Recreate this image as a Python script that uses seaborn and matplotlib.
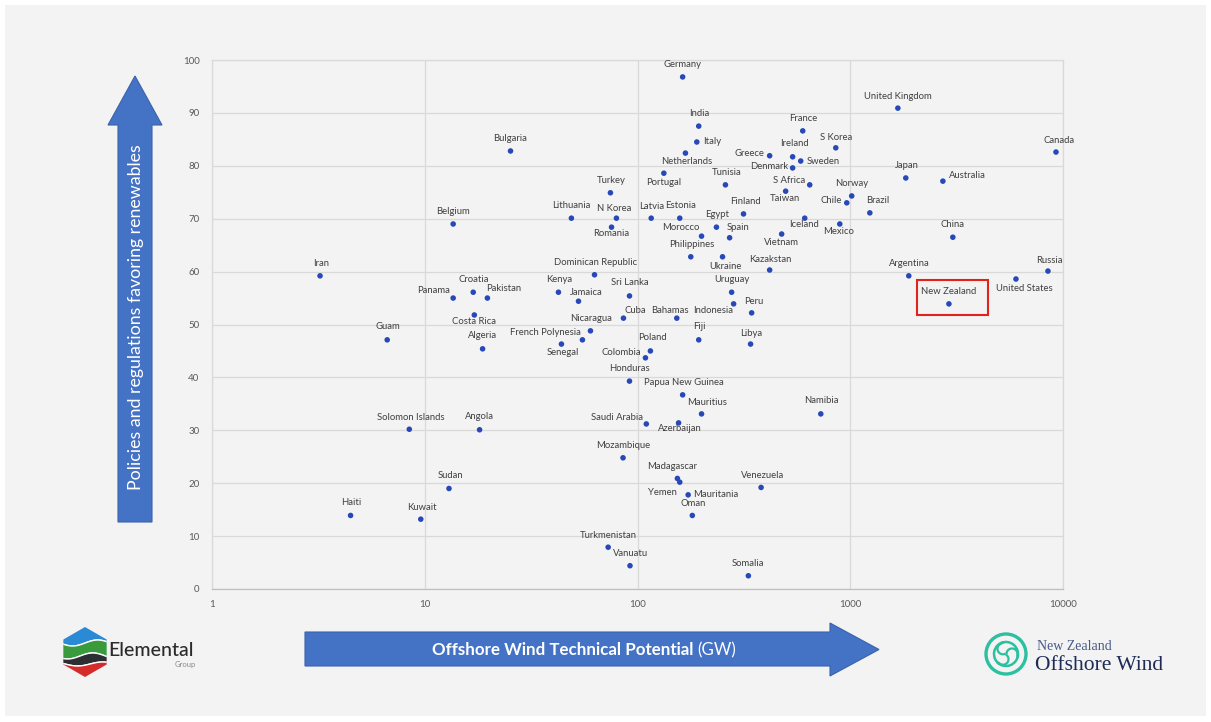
import numpy as np
import pandas as pd
import matplotlib
matplotlib.use("Agg")
import matplotlib.pyplot as plt
import seaborn as sns
from matplotlib.patches import Polygon, Rectangle, Circle, Arc, RegularPolygon
from matplotlib.ticker import FixedLocator, FixedFormatter, NullLocator
from matplotlib.transforms import Affine2D, IdentityTransform

# ---------------- data ----------------
countries = [
    "Germany", "United Kingdom", "India", "Italy", "Netherlands", "Bulgaria", "France",
    "S Korea", "Canada", "Greece", "Ireland", "Sweden", "Denmark", "Portugal", "Tunisia",
    "S Africa", "Taiwan", "Japan", "Australia", "Norway", "Chile", "Brazil", "Turkey",
    "Lithuania", "N Korea", "Romania", "Latvia", "Estonia", "Belgium", "Finland", "Egypt",
    "Morocco", "Spain", "Iceland", "Mexico", "Vietnam", "China", "Philippines", "Ukraine",
    "Kazakstan", "Argentina", "Russia", "United States", "New Zealand", "Iran",
    "Dominican Republic", "Kenya", "Jamaica", "Sri Lanka", "Croatia", "Panama", "Pakistan",
    "Costa Rica", "Algeria", "Guam", "French Polynesia", "Senegal", "Nicaragua", "Cuba",
    "Bahamas", "Indonesia", "Uruguay", "Peru", "Fiji", "Libya", "Poland", "Colombia",
    "Honduras", "Papua New Guinea", "Mauritius", "Namibia", "Saudi Arabia", "Azerbaijan",
    "Solomon Islands", "Angola", "Mozambique", "Madagascar", "Yemen", "Mauritania", "Oman",
    "Venezuela", "Sudan", "Haiti", "Kuwait", "Turkmenistan", "Vanuatu", "Somalia",
]
potential_gw = [
    163, 1674, 194, 190, 168, 25.3, 598,
    855, 9270, 418, 536, 585, 536, 133, 259,
    645, 497, 1824, 2725, 1016, 963, 1236, 74.6,
    48.9, 79.6, 75.5, 116, 158, 13.6, 315, 235,
    200, 271, 611, 893, 476, 3035, 178, 251,
    418, 1884, 8497, 6010, 2909, 3.22,
    62.8, 42.5, 52.8, 91.7, 16.9, 13.6, 19.7,
    17.1, 18.7, 6.66, 55.1, 43.9, 60.1, 85.9,
    153, 283, 277, 344, 194, 340, 115, 109,
    91.7, 163, 200, 727, 110, 156,
    8.46, 18.1, 85.5, 154, 158, 173, 181,
    381, 13.0, 4.48, 9.58, 72.8, 92.2, 332,
]
policy_score = [
    96.8, 90.9, 87.5, 84.5, 82.4, 82.8, 86.6,
    83.4, 82.6, 81.9, 81.7, 80.9, 79.6, 78.6, 76.4,
    76.4, 75.2, 77.7, 77.1, 74.3, 73.0, 71.1, 74.9,
    70.1, 70.1, 68.4, 70.1, 70.1, 69.0, 70.9, 68.4,
    66.7, 66.4, 70.1, 69.0, 67.1, 66.5, 62.8, 62.8,
    60.3, 59.2, 60.1, 58.6, 53.9, 59.2,
    59.4, 56.1, 54.4, 55.4, 56.1, 55.0, 55.0,
    51.8, 45.4, 47.1, 47.1, 46.3, 48.8, 51.2,
    51.2, 53.9, 56.1, 52.2, 47.1, 46.3, 45.0, 43.7,
    39.3, 36.7, 33.1, 33.1, 31.2, 31.4,
    30.2, 30.1, 24.8, 20.9, 20.2, 17.8, 13.9,
    19.2, 19.0, 13.9, 13.2, 7.9, 4.4, 2.5,
]
x_ticks = [1, 10, 100, 1000, 10000]
x_tick_labels = ["1", "10", "100", "1000", "10000"]
y_ticks = [0, 10, 20, 30, 40, 50, 60, 70, 80, 90, 100]
highlight_country = "New Zealand"
y_title = "Policies and regulations favoring renewables"
x_title_bold = "Offshore Wind Technical Potential"
x_title_unit = "(GW)"

# ---------------- layout (label offsets in pixels: dx, dy, ha) ----------------
LABEL_POS = {
    "Germany": (0, 12, "center"), "United Kingdom": (0, 12, "center"),
    "India": (1, 13, "center"), "Italy": (6, 0, "left"), "Netherlands": (1, -8, "center"),
    "Bulgaria": (0, 12, "center"), "France": (1, 12, "center"), "S Korea": (0, 10, "center"),
    "Canada": (3, 12, "center"), "Greece": (-5, 2, "right"), "Ireland": (2, 13, "center"),
    "Sweden": (6, 0, "left"), "Denmark": (-4, 1, "right"), "Portugal": (0, -9, "center"),
    "Tunisia": (1, 12, "center"), "S Africa": (-4, 4, "right"), "Taiwan": (-1, -7, "center"),
    "Japan": (1, 12, "center"), "Australia": (6, 6, "left"), "Norway": (0, 12, "center"),
    "Chile": (-5, 2, "right"), "Brazil": (8, 12, "center"), "Turkey": (1, 12, "center"),
    "Lithuania": (0, 13, "center"), "N Korea": (-2, 10, "center"), "Romania": (0, -6, "center"),
    "Latvia": (0, 12, "center"), "Estonia": (1, 13, "center"), "Belgium": (0, 12, "center"),
    "Finland": (2, 12, "center"), "Egypt": (1, 13, "center"), "Morocco": (-2, 9, "right"),
    "Spain": (-3, 10, "left"), "Iceland": (-1, -6, "center"), "Mexico": (-1, -8, "center"),
    "Vietnam": (0, -8, "center"), "China": (0, 13, "center"), "Philippines": (1, 12, "center"),
    "Ukraine": (3, -10, "center"), "Kazakstan": (1, 11, "center"), "Argentina": (1, 12, "center"),
    "Russia": (1, 11, "center"), "United States": (8, -9, "center"), "New Zealand": (0, 12, "center"),
    "Iran": (1, 12, "center"), "Dominican Republic": (1, 12, "center"), "Kenya": (1, 13, "center"),
    "Jamaica": (8, 9, "center"), "Sri Lanka": (0, 13, "center"), "Croatia": (1, 13, "center"),
    "Panama": (-3, 8, "right"), "Pakistan": (-1, 10, "left"), "Costa Rica": (0, -7, "center"),
    "Algeria": (0, 13, "center"), "Guam": (1, 13, "center"), "French Polynesia": (-2, 7, "right"),
    "Senegal": (1, -8, "center"), "Nicaragua": (1, 12, "center"), "Cuba": (1, 8, "left"),
    "Bahamas": (-7, 8, "center"), "Indonesia": (0, -7, "right"), "Uruguay": (0, 13, "center"),
    "Peru": (2, 11, "center"), "Fiji": (1, 13, "center"), "Libya": (1, 11, "center"),
    "Poland": (2, 13, "center"), "Colombia": (-4, 5, "right"), "Honduras": (0, 13, "center"),
    "Papua New Guinea": (1, 12, "center"), "Mauritius": (6, 11, "center"), "Namibia": (1, 13, "center"),
    "Saudi Arabia": (-3, 6, "right"), "Azerbaijan": (1, -6, "center"),
    "Solomon Islands": (1, 12, "center"), "Angola": (0, 13, "center"), "Mozambique": (0, 12, "center"),
    "Madagascar": (-5, 12, "center"), "Yemen": (-3, -10, "right"), "Mauritania": (5, 0, "left"),
    "Oman": (1, 12, "center"), "Venezuela": (2, 12, "center"), "Sudan": (1, 13, "center"),
    "Haiti": (1, 13, "center"), "Kuwait": (1, 12, "center"), "Turkmenistan": (0, 12, "center"),
    "Vanuatu": (1, 12, "center"), "Somalia": (0, 12, "center"),
}

W, H = 1211, 722
BG = "#f3f3f3"
BLUE = "#4472c4"

sns.set_theme(style="white")
plt.rcParams["font.family"] = ["Lato", "DejaVu Sans"]

df = pd.DataFrame({"country": countries, "gw": potential_gw, "policy": policy_score})

fig = plt.figure(figsize=(W / 100, H / 100), dpi=100)
fig.patch.set_facecolor("white")
# image-pixel transform (origin top-left)
T = Affine2D().scale(1, -1).translate(0, H)

fig.add_artist(Rectangle((5, 5), W - 10, H - 11, transform=T, facecolor=BG,
                         edgecolor="none", zorder=-10))

ax = fig.add_axes([212 / W, 1 - 589 / H, (1063 - 212) / W, (589 - 60) / H])
ax.set_facecolor(BG)

sns.scatterplot(data=df, x="gw", y="policy", ax=ax, color="#2748b8", s=16,
                edgecolor="none", linewidth=0, zorder=3, legend=False)

ax.set_xscale("log")
ax.set_xlim(1, 10000)
ax.set_ylim(0, 100)
ax.xaxis.set_major_locator(FixedLocator(x_ticks))
ax.xaxis.set_major_formatter(FixedFormatter(x_tick_labels))
ax.xaxis.set_minor_locator(NullLocator())
ax.set_yticks(y_ticks)
ax.set_xlabel("")
ax.set_ylabel("")
ax.grid(True, color="#d9d9d9", lw=0.9)
ax.set_axisbelow(True)
for s in ax.spines.values():
    s.set_color("#d9d9d9")
    s.set_linewidth(0.9)
ax.spines["bottom"].set_color("#bfbfbf")
ax.tick_params(axis="both", length=0, labelsize=7, labelcolor="#595959")
ax.tick_params(axis="y", pad=9)
ax.tick_params(axis="x", pad=8)

for name, xv, yv in zip(countries, potential_gw, policy_score):
    dx, dy, ha = LABEL_POS.get(name, (0, 12, "center"))
    ax.annotate(name, (xv, yv), xytext=(dx, dy), textcoords="offset pixels",
                ha=ha, va="center", fontsize=6.8, color="#404040", zorder=4)

# highlight box around New Zealand
i_nz = countries.index(highlight_country)
px, py = ax.transData.transform((potential_gw[i_nz], policy_score[i_nz]))
fig.add_artist(Rectangle((px - 32, py - 11), 71, 35, transform=IdentityTransform(),
                         fill=False, edgecolor="#e3221c", lw=1.5, zorder=5))

# left vertical arrow
fig.add_artist(Polygon([(118, 522), (118, 125), (108, 125), (135, 76), (162, 125),
                        (152, 125), (152, 522)], closed=True, transform=T,
                       facecolor=BLUE, edgecolor="#3a62ad", lw=0.8))
fig.text(136, 317, y_title, transform=T, rotation=90, ha="center", va="center",
         color="white", fontsize=12.8)

# bottom horizontal arrow
fig.add_artist(Polygon([(305, 632), (830, 632), (830, 623), (879, 649.5), (830, 676),
                        (830, 666), (305, 666)], closed=True, transform=T,
                       facecolor=BLUE, edgecolor="#3a62ad", lw=0.8))
fig.text(693, 650, x_title_bold, transform=T, ha="right", va="center",
         color="white", fontsize=12.2, fontweight="bold")
fig.text(697, 650, x_title_unit, transform=T, ha="left", va="center",
         color="white", fontsize=12.2)

# Elemental logo
hexa = RegularPolygon((85, 652), numVertices=6, radius=25, orientation=0,
                      transform=T, facecolor="none", edgecolor="none")
fig.add_artist(hexa)
xs = np.linspace(55, 115, 60)
def band(top_fn, bot_fn, color):
    verts = list(zip(xs, top_fn(xs))) + list(zip(xs[::-1], bot_fn(xs[::-1])))
    p = Polygon(verts, closed=True, transform=T, facecolor=color, edgecolor="white", lw=1.0)
    fig.add_artist(p)
    p.set_clip_path(hexa)
band(lambda x: np.full_like(x, 620.0), lambda x: 643 + 3 * np.sin((x - 60) / 8), "#2a8ad6")
band(lambda x: 643 + 3 * np.sin((x - 60) / 8), lambda x: 656 + 3 * np.sin((x - 55) / 8), "#3a9b3e")
band(lambda x: 656 + 3 * np.sin((x - 55) / 8), lambda x: 664 + 2 * np.sin((x - 65) / 8), "#2b2e33")
band(lambda x: 664 + 2 * np.sin((x - 65) / 8), lambda x: np.full_like(x, 685.0), "#d42b2b")
fig.text(108, 650, "Elemental", transform=T, ha="left", va="center",
         fontsize=14, color="#2b2b2b", fontweight="medium")
fig.text(196, 664, "Group", transform=T, ha="right", va="center",
         fontsize=5.5, color="#8a8a8a")

# New Zealand Offshore Wind logo
TEAL = "#2cc0a0"
fig.add_artist(Circle((1006, 654), 20, transform=T, fill=False, edgecolor=TEAL, lw=2.4))
for ang in (0, 120, 240):
    fig.add_artist(Arc((1006, 654), 24, 24, angle=ang, theta1=0, theta2=140,
                       transform=T, edgecolor=TEAL, lw=1.8))
    a = np.deg2rad(ang)
    fig.add_artist(Arc((1006 + 6 * np.cos(a), 654 + 6 * np.sin(a)), 11, 11, angle=ang + 180,
                       theta1=0, theta2=200, transform=T, edgecolor=TEAL, lw=1.6))
fig.text(1037, 647, "New Zealand", transform=T, ha="left", va="center",
         fontsize=10, color="#4a5a8a", family=["Liberation Serif", "DejaVu Serif"])
fig.text(1035, 666, "Offshore Wind", transform=T, ha="left", va="center",
         fontsize=15.5, color="#1e2b57", family=["Liberation Serif", "DejaVu Serif"])

fig.savefig("out.png", dpi=100, facecolor=fig.get_facecolor())
